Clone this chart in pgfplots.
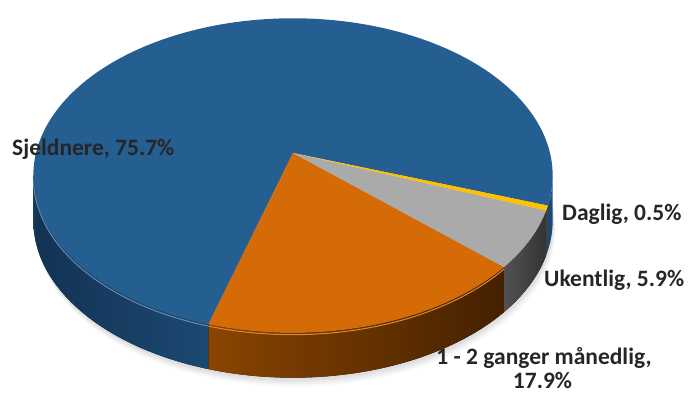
\documentclass[border=0pt]{standalone}
\usepackage{pgfplots}
\pgfplotsset{compat=1.18}
\usepackage{pgfplotstable}
\usepgfplotslibrary{fillbetween}
\usepackage{fontspec}
\setmainfont{Carlito}
\definecolor{cBlue}{RGB}{37,94,145}
\definecolor{cOrange}{RGB}{212,107,6}
\definecolor{cGray}{RGB}{170,170,170}
\definecolor{cYellow}{RGB}{255,192,0}
\definecolor{sBlueL}{RGB}{22,60,98}
\definecolor{sBlueR}{RGB}{34,84,132}
\definecolor{sOrangeL}{RGB}{160,80,2}
\definecolor{sOrangeR}{RGB}{80,40,4}
\definecolor{sGrayL}{RGB}{95,95,95}
\definecolor{sGrayR}{RGB}{62,62,62}
\definecolor{labc}{RGB}{38,38,38}

% share of answers, in percent, in clockwise order from the start angle
\pgfplotstableread{
cat value
Daglig 0.5
Ukentlig 5.9
Maanedlig 17.9
Sjeldnere 75.7
}\piedata

\begin{document}
\begin{tikzpicture}[lab/.style={inner sep=0pt, text=labc, font=\bfseries\fontsize{23.5}{28}\selectfont}]
\pgfplotstablegetelem{0}{value}\of\piedata \let\vA\pgfplotsretval
\pgfplotstablegetelem{1}{value}\of\piedata \let\vB\pgfplotsretval
\pgfplotstablegetelem{2}{value}\of\piedata \let\vC\pgfplotsretval
\pgfplotstablegetelem{3}{value}\of\piedata \let\vD\pgfplotsretval
\pgfmathsetmacro\tA{-19}
\pgfmathsetmacro\tB{\tA-3.6*\vA}
\pgfmathsetmacro\tC{\tB-3.6*\vB}
\pgfmathsetmacro\tD{\tC-3.6*\vC}
\pgfmathsetmacro\tE{\tD-3.6*\vD}
\begin{axis}[
  width=690pt, height=396pt, scale only axis,
  xmin=0, xmax=690, ymin=0, ymax=396,
  hide axis, clip=false,
  declare function={
    px(\t)=293+257*cos(\t)/(1+0.143*sin(\t));
    py(\t)=243+154*sin(\t)/(1+0.143*sin(\t));
  },
]
% soft shadow
\foreach \k/\o in {9/0.025,7/0.03,5/0.035,3/0.04}{
  \edef\temp{\noexpand\addplot[fill=black, fill opacity=\o, draw=none, domain=0:360, samples=120, variable=\noexpand\t]
   ({px(\noexpand\t)+0.3*\k},{py(\noexpand\t)-45-\k});}
  \temp
}
% side walls
\addplot[draw=none, name path=bLt, domain=-171.8:\tD, samples=60, variable=\t] ({px(\t)},{py(\t)});
\addplot[draw=none, name path=bLb, domain=-171.8:\tD, samples=60, variable=\t] ({px(\t)},{py(\t)-45});
\addplot[left color=sBlueL, right color=sBlueR, draw=none] fill between[of=bLt and bLb];
\addplot[draw=none, name path=oT, domain=\tD:\tC, samples=60, variable=\t] ({px(\t)},{py(\t)});
\addplot[draw=none, name path=oB, domain=\tD:\tC, samples=60, variable=\t] ({px(\t)},{py(\t)-45});
\addplot[left color=sOrangeL, right color=sOrangeR, draw=none] fill between[of=oT and oB];
\addplot[draw=none, name path=gT, domain=\tC:\tB, samples=30, variable=\t] ({px(\t)},{py(\t)});
\addplot[draw=none, name path=gB, domain=\tC:\tB, samples=30, variable=\t] ({px(\t)},{py(\t)-45});
\addplot[left color=sGrayL, right color=sGrayR, draw=none] fill between[of=gT and gB];
\addplot[draw=none, name path=yT, domain=\tB:\tA, samples=5, variable=\t] ({px(\t)},{py(\t)});
\addplot[draw=none, name path=yB, domain=\tB:\tA, samples=5, variable=\t] ({px(\t)},{py(\t)-45});
\addplot[fill=black!70, draw=none] fill between[of=yT and yB];
\addplot[draw=none, name path=bRt, domain=\tA:-8.2, samples=10, variable=\t] ({px(\t)},{py(\t)});
\addplot[draw=none, name path=bRb, domain=\tA:-8.2, samples=10, variable=\t] ({px(\t)},{py(\t)-45});
\addplot[fill=sBlueR, draw=none] fill between[of=bRt and bRb];
% bevel highlight along the front top edge
\addplot[draw=cBlue!70!white, line width=1pt, domain=-171.8:\tD, samples=60, variable=\t] ({px(\t)},{py(\t)-2});
\addplot[draw=cOrange!80!white, line width=1pt, domain=\tD:\tC, samples=60, variable=\t] ({px(\t)},{py(\t)-2});
% top faces
\addplot[fill=cBlue, draw=none, domain=\tE:\tD, samples=200, variable=\t] ({px(\t)},{py(\t)}) -- (axis cs:293,243) -- cycle;
\addplot[fill=cOrange, draw=none, domain=\tD:\tC, samples=60, variable=\t] ({px(\t)},{py(\t)}) -- (axis cs:293,243) -- cycle;
\addplot[fill=cGray, draw=none, domain=\tC:\tB, samples=30, variable=\t] ({px(\t)},{py(\t)}) -- (axis cs:293,243) -- cycle;
\addplot[fill=cYellow, draw=none, domain=\tB:\tA, samples=5, variable=\t] ({px(\t)},{py(\t)}) -- (axis cs:293,243) -- cycle;
% labels
\node[lab, anchor=base west] at (axis cs:12,240) {Sjeldnere, 75.7\%};
\node[lab, anchor=base west] at (axis cs:562,175) {Daglig, 0.5\%};
\node[lab, anchor=base west] at (axis cs:544,109) {Ukentlig, 5.9\%};
\node[lab, anchor=base] at (axis cs:544,31) {1 - 2 ganger månedlig,};
\node[lab, anchor=base] at (axis cs:542.5,8) {17.9\%};
\end{axis}
\path (current axis.south west) rectangle (current axis.north east);
\end{tikzpicture}
\end{document}
